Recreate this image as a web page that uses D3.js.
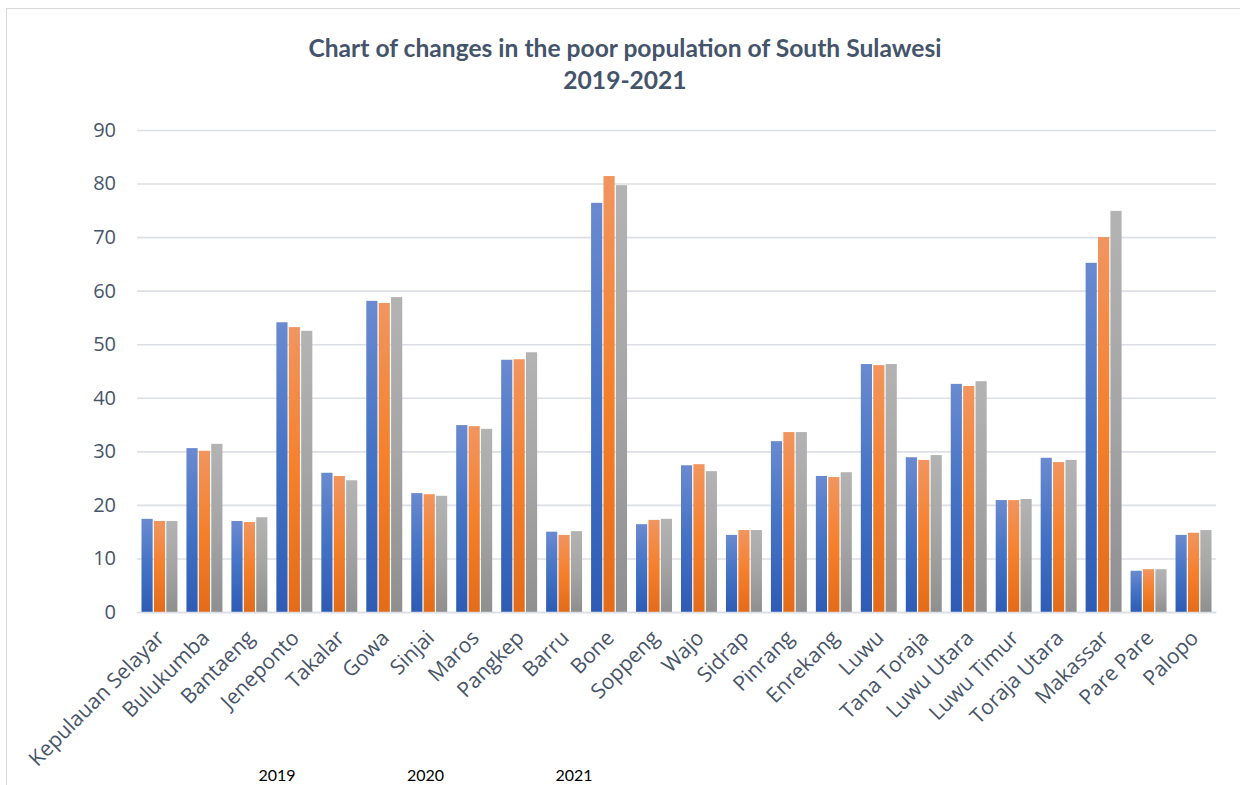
<!DOCTYPE html>
<html>
<head>
<meta charset="utf-8">
<script src="https://cdn.jsdelivr.net/npm/d3@7"></script>
<style>
  body { margin: 0; background: #fff; }
  svg { display: block; }
</style>
</head>
<body>
<svg id="chart"></svg>
<script>
// regencies / cities of South Sulawesi
const regions = ["Kepulauan Selayar", "Bulukumba", "Bantaeng", "Jeneponto", "Takalar", "Gowa",
  "Sinjai", "Maros", "Pangkep", "Barru", "Bone", "Soppeng", "Wajo", "Sidrap", "Pinrang",
  "Enrekang", "Luwu", "Tana Toraja", "Luwu Utara", "Luwu Timur", "Toraja Utara", "Makassar",
  "Pare Pare", "Palopo"];
const years = ["2019", "2020", "2021"];

// poor population (thousands)
const poor2019 = [17.4, 30.6, 17.0, 54.1, 26.0, 58.1, 22.2, 34.9, 47.1, 15.0, 76.4, 16.4, 27.4,
  14.4, 31.9, 25.4, 46.3, 28.9, 42.6, 20.9, 28.8, 65.2, 7.7, 14.4];
const poor2020 = [17.0, 30.1, 16.8, 53.2, 25.4, 57.7, 22.0, 34.7, 47.2, 14.4, 81.4, 17.2, 27.6,
  15.3, 33.6, 25.2, 46.1, 28.4, 42.2, 20.9, 28.0, 70.0, 8.0, 14.8];
const poor2021 = [17.0, 31.4, 17.7, 52.5, 24.6, 58.8, 21.7, 34.2, 48.5, 15.1, 79.7, 17.4, 26.3,
  15.3, 33.6, 26.1, 46.3, 29.3, 43.1, 21.1, 28.4, 74.9, 8.0, 15.3];
const yTicks = [0, 10, 20, 30, 40, 50, 60, 70, 80, 90];

const series = [poor2019, poor2020, poor2021];

const W = 1240, H = 785;
const svg = d3.select("#chart").attr("width", W).attr("height", H);
const margin = {top: 130, right: 24, bottom: 173, left: 137};
const width = W - margin.left - margin.right,
      height = H - margin.top - margin.bottom;

// chart frame
svg.append("rect")
  .attr("x", 6.5).attr("y", 8.5)
  .attr("width", W).attr("height", H)
  .attr("fill", "#fff")
  .attr("stroke", "#d9d9d9");

// gradients, lighter at top and darker at the base
const grads = [
  ["#6a8ad0", "#4472c4", "#2e5cb5"],
  ["#f1955f", "#f5802c", "#e36b1a"],
  ["#b3b3b3", "#a5a5a5", "#8f8f8f"]
];
const defs = svg.append("defs");
grads.forEach((c, i) => {
  const lg = defs.append("linearGradient")
    .attr("id", "g" + i)
    .attr("x1", 0).attr("y1", 0).attr("x2", 0).attr("y2", 1);
  lg.append("stop").attr("offset", "0%").attr("stop-color", c[0]);
  lg.append("stop").attr("offset", "50%").attr("stop-color", c[1]);
  lg.append("stop").attr("offset", "100%").attr("stop-color", c[2]);
});

const title = svg.append("text")
  .attr("text-anchor", "middle")
  .attr("font-family", "Lato, 'Open Sans', sans-serif")
  .attr("font-weight", 700)
  .attr("font-size", 24.6)
  .attr("fill", "#44546a");
title.append("tspan").attr("x", 625).attr("y", 57)
  .text("Chart of changes in the poor population of South Sulawesi");
title.append("tspan").attr("x", 625).attr("y", 89).text("2019-2021");

const g = svg.append("g").attr("transform", "translate(" + margin.left + "," + margin.top + ")");

const y = d3.scaleLinear().domain([0, 90]).range([height, 0]);
const x = d3.scaleBand().domain(regions).range([0, width])
  .paddingInner(0.2).paddingOuter(0.1);
const xs = d3.scaleBand().domain(years).range([0, x.bandwidth()]).paddingInner(0.1);

// gridlines + y labels
const yAxis = g.append("g")
  .call(d3.axisLeft(y).tickValues(yTicks).tickSize(-width).tickPadding(21));
yAxis.select(".domain").remove();
yAxis.selectAll(".tick line").attr("stroke", "#dcdfe5").attr("stroke-width", 1.6);
yAxis.selectAll(".tick text")
  .attr("font-family", "'Open Sans', sans-serif")
  .attr("font-size", 20)
  .attr("fill", "#485569");

// bars
const groups = g.selectAll(".region")
  .data(regions)
  .join("g")
  .attr("class", "region")
  .attr("transform", d => "translate(" + x(d) + ",0)");

groups.selectAll("rect")
  .data((d, i) => years.map((yr, k) => ({yr, k, v: series[k][i]})))
  .join("rect")
  .attr("x", d => xs(d.yr))
  .attr("y", d => y(d.v))
  .attr("width", xs.bandwidth())
  .attr("height", d => height - y(d.v))
  .attr("fill", d => "url(#g" + d.k + ")");

// x axis labels
const xAxis = g.append("g")
  .attr("transform", "translate(0," + height + ")")
  .call(d3.axisBottom(x).tickSize(0).tickPadding(0));
xAxis.select(".domain").attr("stroke", "#dcdfe5").attr("stroke-width", 1.6);
xAxis.selectAll(".tick text")
  .attr("font-family", "'Open Sans', sans-serif")
  .attr("font-size", 21)
  .attr("fill", "#485569")
  .attr("text-anchor", "end")
  .attr("x", 0).attr("y", 0).attr("dy", "0.35em")
  .attr("transform", "translate(1,22) rotate(-45)");

// legend (text only)
const legendX = d3.scalePoint().domain(years).range([277, 574]);
svg.append("g").selectAll("text")
  .data(years)
  .join("text")
  .attr("x", d => legendX(d))
  .attr("y", 781)
  .attr("text-anchor", "middle")
  .attr("font-family", "Lato, sans-serif")
  .attr("font-size", 16)
  .attr("fill", "#000")
  .text(d => d);
</script>
</body>
</html>
